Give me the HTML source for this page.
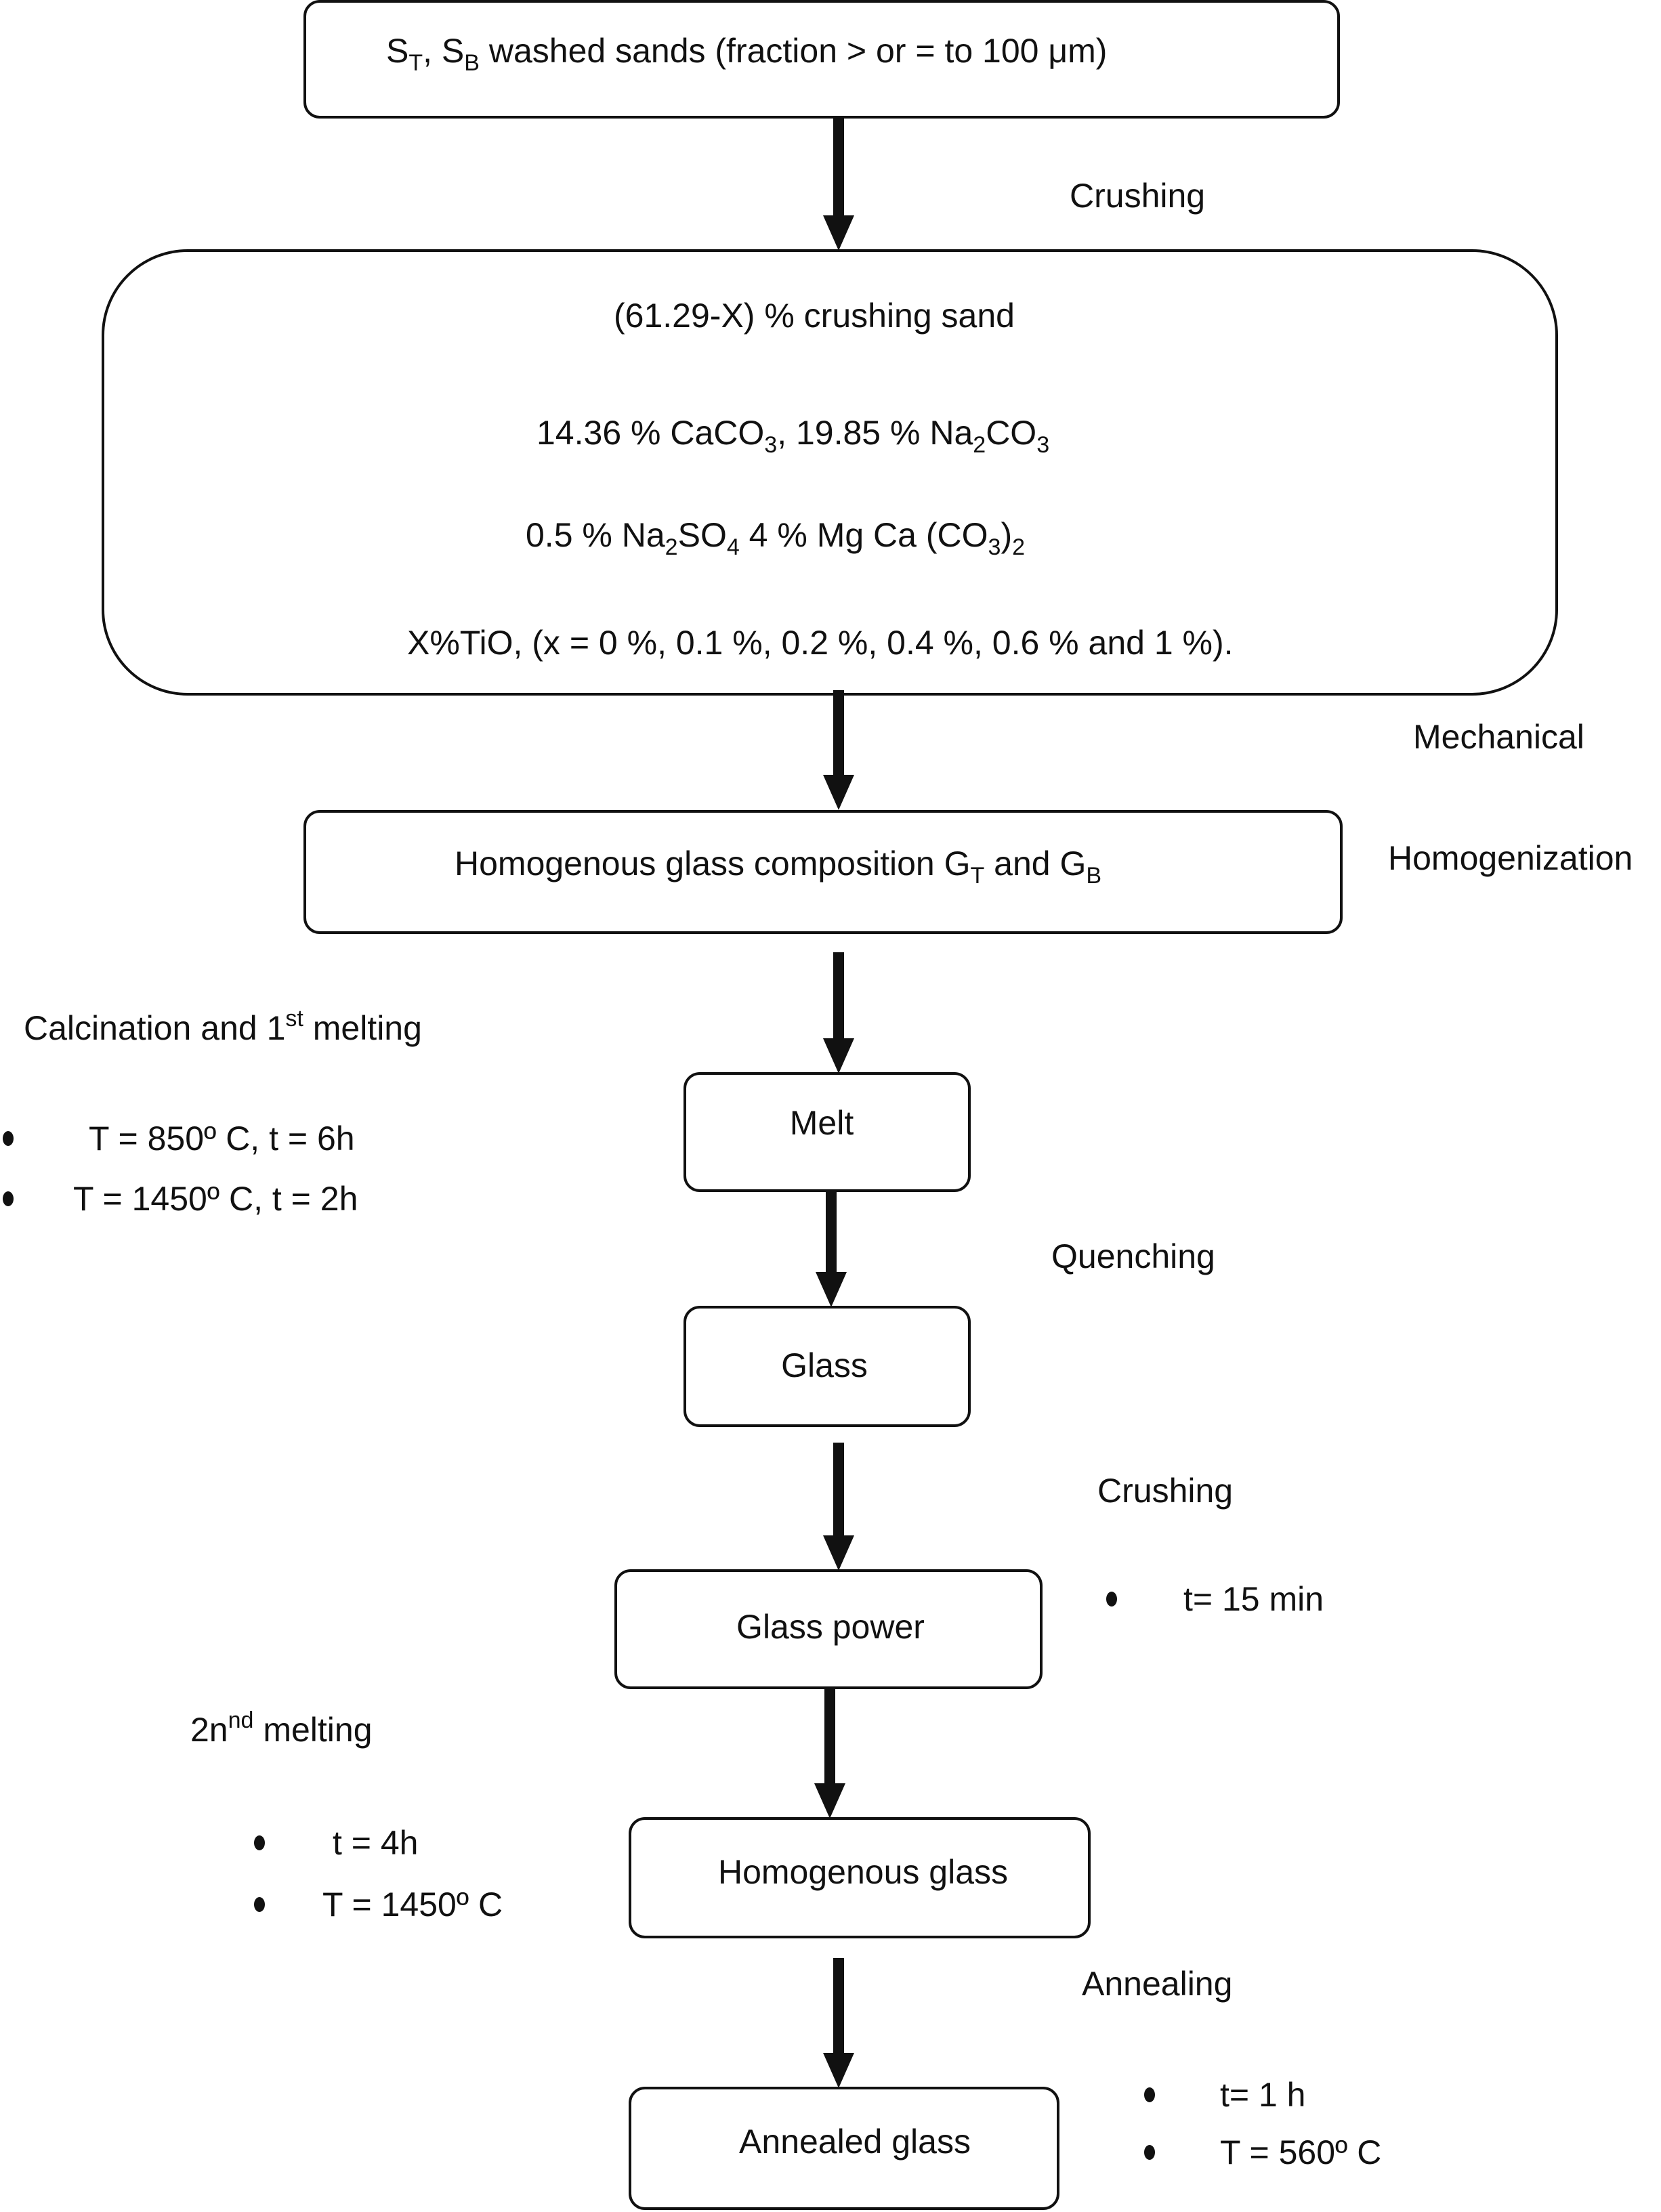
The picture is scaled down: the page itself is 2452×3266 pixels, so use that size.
<!DOCTYPE html>
<html><head><meta charset="utf-8"><style>
html,body{margin:0;padding:0;background:#fff;}
svg{display:block}
text{font-family:"Liberation Sans",Arial,sans-serif;font-size:50px;fill:#111;}
</style></head><body>
<svg width="2452" height="3266" viewBox="0 0 2452 3266" xmlns="http://www.w3.org/2000/svg">
<defs>
<marker id="ah" markerWidth="4" markerHeight="4" refX="2" refY="2" orient="auto" markerUnits="userSpaceOnUse"></marker>
</defs>
<g fill="none" stroke="#111" stroke-width="4">
<rect x="450" y="2" width="1526" height="171" rx="22"/>
<rect x="152" y="370" width="2146" height="655" rx="125"/>
<rect x="450" y="1198" width="1530" height="179" rx="22"/>
<rect x="1011" y="1585" width="420" height="173" rx="22"/>
<rect x="1011" y="1930" width="420" height="175" rx="22"/>
<rect x="909" y="2319" width="628" height="173" rx="22"/>
<rect x="930" y="2685" width="678" height="175" rx="22"/>
<rect x="930" y="3083" width="632" height="178" rx="22"/>
</g>
<g fill="#111">
<rect x="1230" y="173" width="16" height="150"/><polygon points="1215,318 1261,318 1238,370"/>
<rect x="1230" y="1019" width="16" height="130"/><polygon points="1215,1144 1261,1144 1238,1196"/>
<rect x="1230" y="1406" width="16" height="130"/><polygon points="1215,1533 1261,1533 1238,1585"/>
<rect x="1219" y="1758" width="16" height="125"/><polygon points="1204,1878 1250,1878 1227,1930"/>
<rect x="1230" y="2130" width="16" height="140"/><polygon points="1215,2267 1261,2267 1238,2319"/>
<rect x="1217" y="2492" width="16" height="143"/><polygon points="1202,2633 1248,2633 1225,2685"/>
<rect x="1230" y="2891" width="16" height="143"/><polygon points="1215,3031 1261,3031 1238,3083"/>
<ellipse cx="12" cy="1681" rx="8" ry="11"/>
<ellipse cx="12" cy="1770" rx="8" ry="11"/>
<ellipse cx="1641" cy="2361" rx="8" ry="11"/>
<ellipse cx="383" cy="2721" rx="8" ry="11"/>
<ellipse cx="383" cy="2812" rx="8" ry="11"/>
<ellipse cx="1697" cy="3093" rx="8" ry="11"/>
<ellipse cx="1697" cy="3178" rx="8" ry="11"/>
</g>
<text x="570" y="92">S<tspan font-size="34" dy="12">T</tspan><tspan dy="-12">, S</tspan><tspan font-size="34" dy="12">B</tspan><tspan dy="-12"> washed sands (fraction &gt; or = to 100 μm)</tspan></text>
<text x="1579" y="306">Crushing</text>
<text x="1202" y="483" text-anchor="middle">(61.29-X) % crushing sand</text>
<text x="792" y="656">14.36 % CaCO<tspan font-size="34" dy="12">3</tspan><tspan dy="-12">, 19.85 % Na</tspan><tspan font-size="34" dy="12">2</tspan><tspan dy="-12">CO</tspan><tspan font-size="34" dy="12">3</tspan></text>
<text x="776" y="807">0.5 % Na<tspan font-size="34" dy="12">2</tspan><tspan dy="-12">SO</tspan><tspan font-size="34" dy="12">4</tspan><tspan dy="-12"> 4 % Mg Ca (CO</tspan><tspan font-size="34" dy="12">3</tspan><tspan dy="-12">)</tspan><tspan font-size="34" dy="12">2</tspan></text>
<text x="601" y="966">X%TiO, (x = 0 %, 0.1 %, 0.2 %, 0.4 %, 0.6 % and 1 %).</text>
<text x="2086" y="1105">Mechanical</text>
<text x="671" y="1292">Homogenous glass composition G<tspan font-size="34" dy="12">T</tspan><tspan dy="-12"> and G</tspan><tspan font-size="34" dy="12">B</tspan></text>
<text x="2049" y="1284">Homogenization</text>
<text x="35" y="1535">Calcination and 1<tspan font-size="34" dy="-20">st</tspan><tspan dy="20"> melting</tspan></text>
<text x="131" y="1698">T = 850º C, t = 6h</text>
<text x="108" y="1787">T = 1450º C, t = 2h</text>
<text x="1213" y="1675" text-anchor="middle">Melt</text>
<text x="1552" y="1872">Quenching</text>
<text x="1217" y="2033" text-anchor="middle">Glass</text>
<text x="1620" y="2218">Crushing</text>
<text x="1226" y="2419" text-anchor="middle">Glass power</text>
<text x="1747" y="2378">t= 15 min</text>
<text x="281" y="2571">2n<tspan font-size="34" dy="-20">nd</tspan><tspan dy="20"> melting</tspan></text>
<text x="491" y="2738">t = 4h</text>
<text x="476" y="2829">T = 1450º C</text>
<text x="1274" y="2781" text-anchor="middle">Homogenous glass</text>
<text x="1597" y="2946">Annealing</text>
<text x="1262" y="3179" text-anchor="middle">Annealed glass</text>
<text x="1801" y="3110">t= 1 h</text>
<text x="1801" y="3195">T = 560º C</text>
</svg>
</body></html>
